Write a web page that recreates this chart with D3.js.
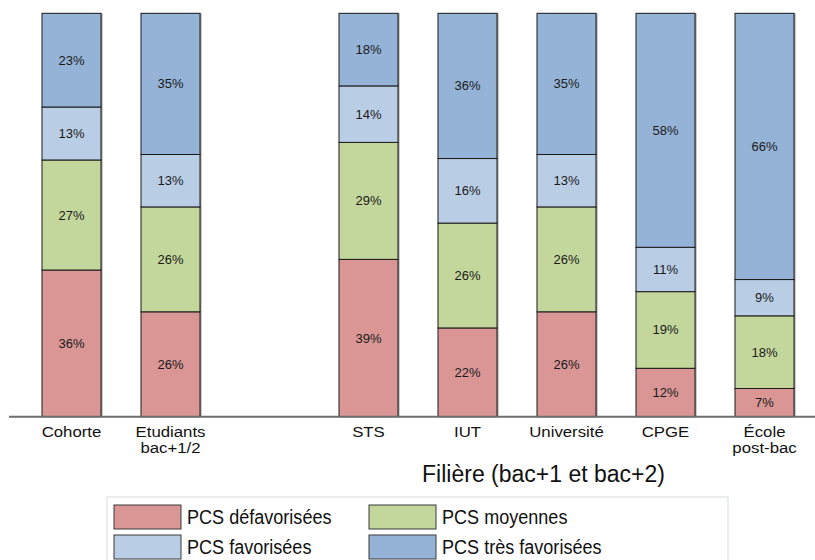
<!DOCTYPE html>
<html lang="fr">
<head>
    <meta charset="UTF-8">
    <title>PCS par filière</title>
    <script src="https://d3js.org/d3.v7.min.js"></script>
    <style>
        body { margin: 0; background: #fff; }
        text { font-family: "Liberation Sans", Arial, sans-serif; fill: #111; }
    </style>
</head>
<body>
    <svg width="815" height="560"></svg>
    <script>
        // categories (the empty slot separates the two groups)
        const categories = ['Cohorte', 'Etudiants', 'gap', 'STS', 'IUT', 'Université', 'CPGE', 'École'];
        const tickLabels = [['Cohorte'], ['Etudiants', 'bac+1/2'], [], ['STS'], ['IUT'], ['Université'], ['CPGE'], ['École', 'post-bac']];
        const barCategories = ['Cohorte', 'Etudiants', 'STS', 'IUT', 'Université', 'CPGE', 'École'];

        // shares in % (as printed on the bars)
        const defavorisees = [36, 26, 39, 22, 26, 12, 7];
        const moyennes = [27, 26, 29, 26, 26, 19, 18];
        const favorisees = [13, 13, 14, 16, 13, 11, 9];
        const tresFavorisees = [23, 35, 18, 36, 35, 58, 66];

        const keys = ['defav', 'moy', 'fav', 'tres'];
        const legendLabels = ['PCS défavorisées', 'PCS moyennes', 'PCS favorisées', 'PCS très favorisées'];
        const colors = ['#D99694', '#C3D69B', '#B9CDE5', '#95B3D7'];
        const axisTitle = 'Filière (bac+1 et bac+2)';

        const data = barCategories.map((c, i) => ({
            cat: c, defav: defavorisees[i], moy: moyennes[i], fav: favorisees[i], tres: tresFavorisees[i]
        }));
        const stacked = d3.stack().keys(keys).offset(d3.stackOffsetExpand)(data);

        const svg = d3.select('svg');
        const x = d3.scaleBand().domain(categories).range([22, 814]).paddingInner(0.404).paddingOuter(0.202);
        const y = d3.scaleLinear().domain([0, 1]).range([416.7, 13.3]);
        const color = d3.scaleOrdinal().domain(keys).range(colors);

        // bars
        const layers = svg.append('g').selectAll('g')
            .data(stacked)
            .enter().append('g')
            .attr('fill', d => color(d.key));

        // soft shadow on the right side of each bar
        svg.insert('g', ':first-child').selectAll('rect')
            .data(data)
            .enter().append('rect')
            .attr('x', d => x(d.cat) + 1.5)
            .attr('y', y(1))
            .attr('width', x.bandwidth())
            .attr('height', y(0) - y(1))
            .attr('fill', '#9a9a9a');

        layers.selectAll('rect')
            .data(d => d)
            .enter().append('rect')
            .attr('x', d => x(d.data.cat))
            .attr('y', d => y(d[1]))
            .attr('width', x.bandwidth())
            .attr('height', d => y(d[0]) - y(d[1]))
            .attr('stroke', '#1a1a1a')
            .attr('stroke-width', 1);

        layers.selectAll('text')
            .data(d => d.map(v => ({ v, key: d.key })))
            .enter().append('text')
            .attr('x', d => x(d.v.data.cat) + x.bandwidth() / 2)
            .attr('y', d => (y(d.v[0]) + y(d.v[1])) / 2)
            .attr('text-anchor', 'middle')
            .attr('dominant-baseline', 'central')
            .attr('font-size', 13)
            .style('fill', '#1a1a1a')
            .text(d => d.v.data[d.key] + '%');

        // x axis
        const axis = svg.append('g')
            .attr('transform', `translate(0,${y(0)})`)
            .call(d3.axisBottom(x).tickSize(0).tickFormat(''));
        axis.select('.domain').remove();
        axis.append('line')
            .attr('x1', 9).attr('x2', 815)
            .attr('stroke', '#6e6e6e').attr('stroke-width', 2);

        axis.selectAll('.tick').each(function(d, i) {
            const lines = tickLabels[i];
            const t = d3.select(this).select('text')
                .attr('y', null)
                .attr('dy', null)
                .attr('font-size', 15)
                .attr('font-family', '"Liberation Sans", Arial, sans-serif')
                .attr('transform', 'scale(1.12,1)')
                .style('fill', '#111');
            lines.forEach((l, j) => {
                t.append('tspan').attr('x', 0).attr('y', 20.6 + j * 16).text(l);
            });
        });

        svg.append('text')
            .attr('x', 543.5)
            .attr('y', 481.7)
            .attr('text-anchor', 'middle')
            .attr('font-size', 23)
            .text(axisTitle);

        // legend
        const legend = svg.append('g');
        legend.append('rect')
            .attr('x', 107).attr('y', 497)
            .attr('width', 621).attr('height', 80)
            .attr('fill', '#fff')
            .attr('stroke', '#d9dede');

        const item = legend.selectAll('g.item')
            .data(keys)
            .enter().append('g')
            .attr('class', 'item')
            .attr('transform', (d, i) => `translate(${i % 2 === 0 ? 114 : 369},${i < 2 ? 505 : 535})`);
        item.append('rect')
            .attr('width', 67).attr('height', 24)
            .attr('fill', d => color(d))
            .attr('stroke', '#3a3a3a');
        item.append('text')
            .attr('transform', 'translate(73,19) scale(0.86,1)')
            .attr('font-size', 21)
            .text((d, i) => legendLabels[i]);
    </script>
</body>
</html>
